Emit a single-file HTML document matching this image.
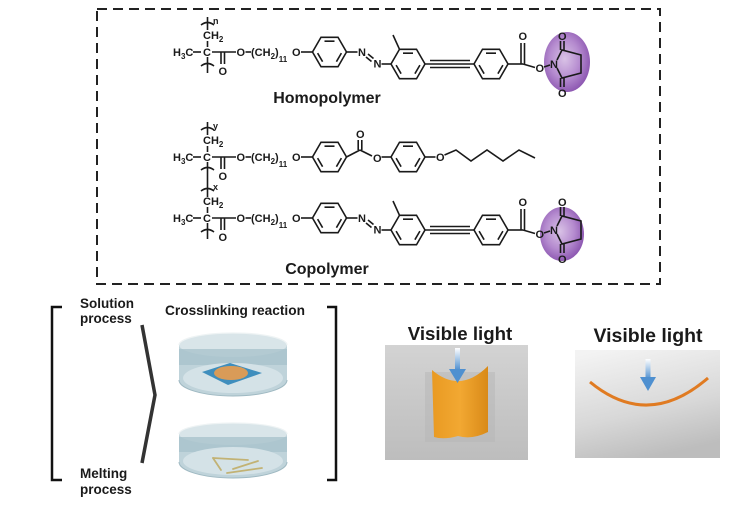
<!DOCTYPE html>
<html>
<head>
<meta charset="utf-8">
<style>
html,body{margin:0;padding:0;background:#fff;}
svg{display:block;}
text{font-family:"Liberation Sans",Arial,sans-serif;}
.a{font-size:11px;font-weight:bold;fill:#1a1a1a;}
.s{font-size:8px;}
.lab{font-weight:bold;fill:#1a1a1a;}
</style>
</head>
<body>
<svg width="756" height="510" viewBox="0 0 756 510" xmlns="http://www.w3.org/2000/svg">
<defs>
  <g id="ring" fill="none" stroke="#1a1a1a" stroke-width="1.6">
    <polygon points="17,0 8.5,14.72 -8.5,14.72 -17,0 -8.5,-14.72 8.5,-14.72"/>
    <path d="M-5,-10.8 L5,-10.8 M11.9,1.1 L6.9,9.7 M-6.9,9.7 L-11.9,1.1"/>
  </g>
  <radialGradient id="purp" cx="0.45" cy="0.45" r="0.6">
    <stop offset="0" stop-color="#d9c2e6"/>
    <stop offset="0.55" stop-color="#b58bcf"/>
    <stop offset="1" stop-color="#8750ad"/>
  </radialGradient>
  <linearGradient id="ph1" x1="0" y1="0" x2="0" y2="1">
    <stop offset="0" stop-color="#d3d3d3"/>
    <stop offset="1" stop-color="#bdbdbd"/>
  </linearGradient>
  <linearGradient id="ph2" x1="0.2" y1="0" x2="0.5" y2="1">
    <stop offset="0" stop-color="#f3f3f3"/>
    <stop offset="0.6" stop-color="#d8d8d8"/>
    <stop offset="1" stop-color="#bdbdbd"/>
  </linearGradient>
  <linearGradient id="arr" x1="0" y1="0" x2="0" y2="1">
    <stop offset="0" stop-color="#ffffff"/>
    <stop offset="1" stop-color="#4f90d0"/>
  </linearGradient>
  <linearGradient id="film" x1="0" y1="0" x2="1" y2="0">
    <stop offset="0" stop-color="#e99a22"/>
    <stop offset="0.5" stop-color="#f2a832"/>
    <stop offset="1" stop-color="#d98a18"/>
  </linearGradient>
</defs>

<!-- dashed box -->
<rect x="97" y="9" width="563" height="275" fill="none" stroke="#222" stroke-width="2" stroke-dasharray="10 6"/>

<!-- purple circles -->
<ellipse cx="567" cy="62" rx="23" ry="30" fill="url(#purp)"/>
<ellipse cx="562" cy="234" rx="22" ry="27" fill="url(#purp)"/>

<g stroke="#1a1a1a" stroke-width="1.6" fill="none">
  <!-- ===== Homopolymer (axis 52) ===== -->
  <line x1="193" y1="52" x2="201" y2="52"/>
  <line x1="207.5" y1="47" x2="207.5" y2="41"/>
  <line x1="207.5" y1="30" x2="207.5" y2="17"/>
  <path d="M201,25 Q207.5,20 214,25"/>
  <line x1="207.5" y1="57" x2="207.5" y2="73"/>
  <path d="M201,66 Q207.5,61 214,66"/>
  <line x1="212" y1="52" x2="236" y2="52"/>
  <line x1="221" y1="52" x2="221" y2="64"/>
  <line x1="224.5" y1="52" x2="224.5" y2="64"/>
  <line x1="245.5" y1="52" x2="251" y2="52"/>
  <line x1="301" y1="52" x2="312.5" y2="52"/>
  <line x1="346.5" y1="52" x2="357.5" y2="52"/>
  <line x1="366" y1="57" x2="371.5" y2="61.5"/>
  <line x1="368" y1="54" x2="373.5" y2="58.5"/>
  <line x1="381.5" y1="64" x2="391" y2="64"/>
  <line x1="399.5" y1="49.3" x2="393" y2="35"/>
  <line x1="425" y1="64" x2="474" y2="64"/>
  <line x1="430" y1="60.5" x2="470" y2="60.5"/>
  <line x1="430" y1="67.5" x2="470" y2="67.5"/>
  <line x1="508" y1="64" x2="523" y2="64"/>
  <line x1="521" y1="64" x2="521" y2="43"/>
  <line x1="524.5" y1="64" x2="524.5" y2="43"/>
  <line x1="523" y1="64" x2="535" y2="67.5"/>
  <line x1="544" y1="67" x2="550" y2="65"/>
  <path d="M557,60 L562,50 L581,55 L581,73 L562,78 L557,68"/>
  <line x1="560.5" y1="50" x2="560.5" y2="41"/>
  <line x1="564" y1="50" x2="564" y2="41"/>
  <line x1="560.5" y1="78" x2="560.5" y2="87"/>
  <line x1="564" y1="78" x2="564" y2="87"/>

  <!-- ===== Copolymer upper (axis 157) ===== -->
  <line x1="193" y1="157" x2="201" y2="157"/>
  <line x1="207.5" y1="152" x2="207.5" y2="146"/>
  <line x1="207.5" y1="135" x2="207.5" y2="122"/>
  <path d="M201,130 Q207.5,125 214,130"/>
  <line x1="207.5" y1="162" x2="207.5" y2="197"/>
  <path d="M201,170 Q207.5,165 214,170"/>
  <line x1="212" y1="157" x2="236" y2="157"/>
  <line x1="221" y1="157" x2="221" y2="169"/>
  <line x1="224.5" y1="157" x2="224.5" y2="169"/>
  <line x1="245.5" y1="157" x2="251" y2="157"/>
  <line x1="301" y1="157" x2="312.5" y2="157"/>
  <line x1="346.5" y1="157" x2="360" y2="150"/>
  <line x1="358.2" y1="150" x2="358.2" y2="140"/>
  <line x1="361.8" y1="150" x2="361.8" y2="140"/>
  <line x1="360" y1="150" x2="372" y2="156"/>
  <line x1="381.5" y1="157" x2="391" y2="157"/>
  <line x1="425" y1="157" x2="435.5" y2="157"/>
  <polyline points="444.5,155 456,150 471,161 487,150 503,161 519,150 535,158"/>

  <!-- ===== Copolymer lower (axis 218) ===== -->
  <line x1="193" y1="218" x2="201" y2="218"/>
  <line x1="207.5" y1="213" x2="207.5" y2="207"/>
  <path d="M201,191 Q207.5,186 214,191"/>
  <line x1="207.5" y1="223" x2="207.5" y2="239"/>
  <path d="M201,232 Q207.5,227 214,232"/>
  <line x1="212" y1="218" x2="236" y2="218"/>
  <line x1="221" y1="218" x2="221" y2="230"/>
  <line x1="224.5" y1="218" x2="224.5" y2="230"/>
  <line x1="245.5" y1="218" x2="251" y2="218"/>
  <line x1="301" y1="218" x2="312.5" y2="218"/>
  <line x1="346.5" y1="218" x2="357.5" y2="218"/>
  <line x1="366" y1="223" x2="371.5" y2="227.5"/>
  <line x1="368" y1="220" x2="373.5" y2="224.5"/>
  <line x1="381.5" y1="230" x2="391" y2="230"/>
  <line x1="399.5" y1="215.3" x2="393" y2="201"/>
  <line x1="425" y1="230" x2="474" y2="230"/>
  <line x1="430" y1="226.5" x2="470" y2="226.5"/>
  <line x1="430" y1="233.5" x2="470" y2="233.5"/>
  <line x1="508" y1="230" x2="523" y2="230"/>
  <line x1="521" y1="230" x2="521" y2="209"/>
  <line x1="524.5" y1="230" x2="524.5" y2="209"/>
  <line x1="523" y1="230" x2="535" y2="233.5"/>
  <line x1="544" y1="233" x2="550" y2="231"/>
  <path d="M557,226 L562,216 L581,221 L581,239 L562,244 L557,234"/>
  <line x1="560.5" y1="216" x2="560.5" y2="207"/>
  <line x1="564" y1="216" x2="564" y2="207"/>
  <line x1="560.5" y1="244" x2="560.5" y2="253"/>
  <line x1="564" y1="244" x2="564" y2="253"/>
</g>

<!-- rings -->
<use href="#ring" transform="translate(329.5,52)"/>
<use href="#ring" transform="translate(408,64)"/>
<use href="#ring" transform="translate(491,64)"/>
<use href="#ring" transform="translate(329.5,157)"/>
<use href="#ring" transform="translate(408,157)"/>
<use href="#ring" transform="translate(329.5,218)"/>
<use href="#ring" transform="translate(408,230)"/>
<use href="#ring" transform="translate(491,230)"/>

<!-- atom labels: homopolymer -->
<g class="a">
  <text x="173" y="56">H<tspan class="s" dy="3">3</tspan><tspan dy="-3">C</tspan></text>
  <text x="203" y="56">C</text>
  <text x="203" y="39">CH<tspan class="s" dy="3">2</tspan></text>
  <text x="213" y="24" font-size="9">n</text>
  <text x="218.5" y="75">O</text>
  <text x="236.5" y="56">O</text>
  <text x="251" y="56">(CH<tspan class="s" dy="3">2</tspan><tspan dy="-3">)</tspan><tspan class="s" dy="6">11</tspan></text>
  <text x="292" y="56">O</text>
  <text x="358" y="56">N</text>
  <text x="373.5" y="67.5">N</text>
  <text x="518.5" y="40">O</text>
  <text x="535.5" y="72">O</text>
  <text x="550" y="68">N</text>
  <text x="558" y="40">O</text>
  <text x="558" y="97">O</text>

  <!-- copolymer upper -->
  <text x="173" y="161">H<tspan class="s" dy="3">3</tspan><tspan dy="-3">C</tspan></text>
  <text x="203" y="161">C</text>
  <text x="203" y="144">CH<tspan class="s" dy="3">2</tspan></text>
  <text x="213" y="129" font-size="9">y</text>
  <text x="218.5" y="180">O</text>
  <text x="236.5" y="161">O</text>
  <text x="251" y="161">(CH<tspan class="s" dy="3">2</tspan><tspan dy="-3">)</tspan><tspan class="s" dy="6">11</tspan></text>
  <text x="292" y="161">O</text>
  <text x="356" y="138">O</text>
  <text x="373" y="162">O</text>
  <text x="436" y="161">O</text>

  <!-- copolymer lower -->
  <text x="173" y="222">H<tspan class="s" dy="3">3</tspan><tspan dy="-3">C</tspan></text>
  <text x="203" y="222">C</text>
  <text x="203" y="205">CH<tspan class="s" dy="3">2</tspan></text>
  <text x="213" y="190" font-size="9">x</text>
  <text x="218.5" y="241">O</text>
  <text x="236.5" y="222">O</text>
  <text x="251" y="222">(CH<tspan class="s" dy="3">2</tspan><tspan dy="-3">)</tspan><tspan class="s" dy="6">11</tspan></text>
  <text x="292" y="222">O</text>
  <text x="358" y="222">N</text>
  <text x="373.5" y="233.5">N</text>
  <text x="518.5" y="206">O</text>
  <text x="535.5" y="238">O</text>
  <text x="550" y="234">N</text>
  <text x="558" y="206">O</text>
  <text x="558" y="263">O</text>
</g>

<text class="lab" x="327" y="103" font-size="16" text-anchor="middle">Homopolymer</text>
<text class="lab" x="327" y="274" font-size="16" text-anchor="middle">Copolymer</text>

<!-- ===== bottom left panel ===== -->
<path d="M62,307 L52,307 L52,480 L62,480" fill="none" stroke="#111" stroke-width="2.5"/>
<path d="M327,307 L336,307 L336,480 L327,480" fill="none" stroke="#111" stroke-width="2.5"/>
<text class="lab" x="80" y="308" font-size="13.5">Solution</text>
<text class="lab" x="80" y="323" font-size="13.5">process</text>
<text class="lab" x="80" y="478" font-size="13.5">Melting</text>
<text class="lab" x="80" y="494" font-size="13.5">process</text>
<text class="lab" x="165" y="315" font-size="13.7">Crosslinking reaction</text>
<polyline points="142,325 155,395 142,463" fill="none" stroke="#333" stroke-width="3.5"/>

<!-- dish 1 -->
<g>
  <path d="M179,345 L179,380 A54,16 0 0 0 287,380 L287,345 A54,12 0 0 0 179,345 Z" fill="#bfd3da"/>
  <ellipse cx="233" cy="345" rx="54" ry="12" fill="#d9e5e9"/>
  <path d="M179,349 L287,349 L287,365 L179,365 Z" fill="#a9c3cc" opacity="0.8"/>
  <ellipse cx="233" cy="378" rx="50" ry="15" fill="#d4e2e7"/>
  <path d="M179,345 A54,12 0 0 1 287,345" fill="none" stroke="#eef3f4" stroke-width="1.2"/>
  <path d="M179,380 A54,16 0 0 0 287,380" fill="none" stroke="#9fb9c2" stroke-width="1"/>
  <polygon points="202,372 230,363 262,373 228,385" fill="#3f8ebd"/>
  <ellipse cx="231" cy="373" rx="17" ry="7" fill="#d99b58"/>
</g>
<!-- dish 2 -->
<g>
  <path d="M179,434 L179,462 A54,16 0 0 0 287,462 L287,434 A54,11 0 0 0 179,434 Z" fill="#bfd3da"/>
  <ellipse cx="233" cy="434" rx="54" ry="11" fill="#d9e5e9"/>
  <path d="M179,437 L287,437 L287,452 L179,452 Z" fill="#a9c3cc" opacity="0.8"/>
  <ellipse cx="233" cy="461" rx="50" ry="14" fill="#d4e2e7"/>
  <path d="M179,434 A54,11 0 0 1 287,434" fill="none" stroke="#eef3f4" stroke-width="1.2"/>
  <path d="M179,462 A54,16 0 0 0 287,462" fill="none" stroke="#9fb9c2" stroke-width="1"/>
  <g stroke="#c2b274" stroke-width="1.8" stroke-linecap="round">
    <line x1="213" y1="458" x2="221" y2="470"/>
    <line x1="213" y1="458" x2="248" y2="460"/>
    <line x1="233" y1="469" x2="258" y2="461"/>
    <line x1="227" y1="473" x2="262" y2="468"/>
  </g>
</g>

<!-- ===== photo 1 ===== -->
<text class="lab" x="460" y="340" font-size="18.7" text-anchor="middle">Visible light</text>
<rect x="385" y="345" width="143" height="115" fill="url(#ph1)"/>
<rect x="425" y="372" width="70" height="70" fill="#b5b5b5" opacity="0.5"/>
<path d="M432,370 Q460,394 488,366 L488,432 Q472,440 458,436 Q444,440 434,437 Z" fill="url(#film)"/>
<rect x="455" y="348" width="5" height="22" fill="url(#arr)"/>
<polygon points="449,369 466,369 457.5,383" fill="#4f90d0"/>

<!-- ===== photo 2 ===== -->
<text class="lab" x="648" y="342" font-size="19.5" text-anchor="middle">Visible light</text>
<rect x="575" y="350" width="145" height="108" fill="url(#ph2)"/>
<path d="M590,382 Q648,430 708,378" fill="none" stroke="#e07b22" stroke-width="3"/>
<rect x="645.5" y="359" width="5" height="20" fill="url(#arr)"/>
<polygon points="640,377 656,377 648,391" fill="#4f90d0"/>
</svg>
</body>
</html>
